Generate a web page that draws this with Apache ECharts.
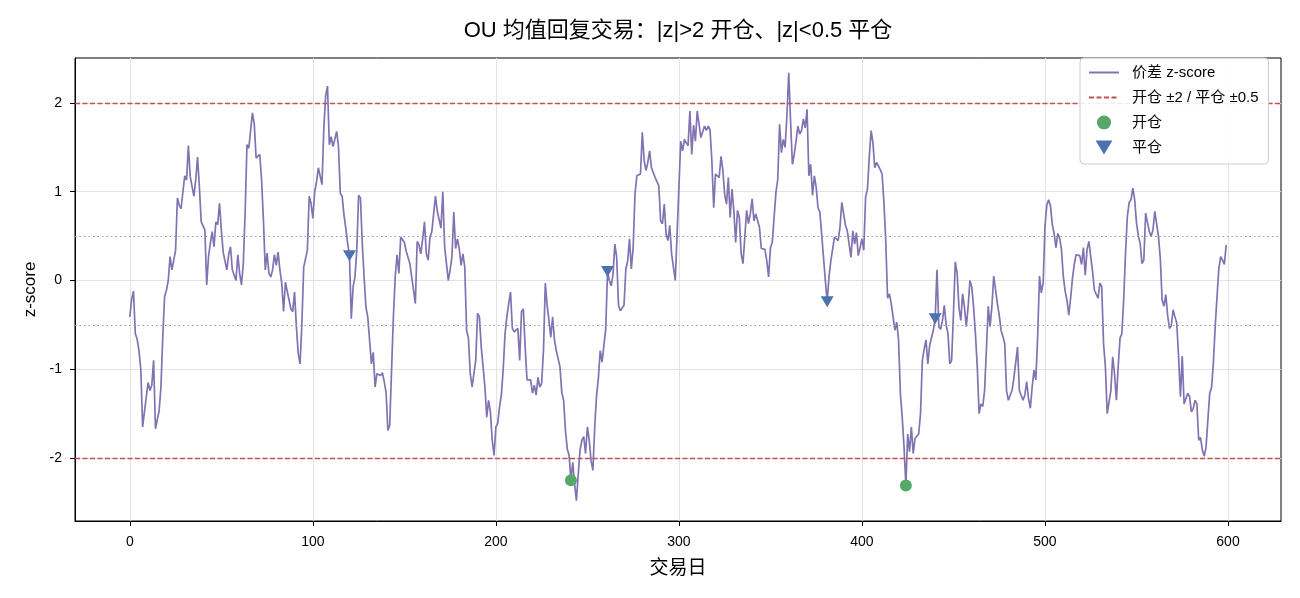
<!DOCTYPE html>
<html><head><meta charset="utf-8">
<script src="https://cdn.jsdelivr.net/npm/echarts@6/dist/echarts.min.js"></script>
<style>html,body{margin:0;padding:0;background:#fff}#c{width:1300px;height:598px}</style>
</head><body><div id="c"></div>
<script>
// z-score of the spread, trading days 0..599
const zScore = [
-0.41,-0.21,-0.12,-0.6,-0.66,-0.79,-1.0,-1.65,-1.67,-1.31,
-1.15,-1.24,-1.18,-0.9,-1.67,-1.65,-1.47,-1.2,-0.64,-0.18,
-0.11,0.0,0.27,0.12,0.10,0.34,0.93,0.85,0.81,0.83,
1.18,1.13,1.52,1.17,1.06,0.95,1.13,1.39,1.06,0.66,
0.64,0.57,-0.05,0.27,0.42,0.55,0.38,0.66,0.63,0.87,
0.57,0.32,0.34,0.12,0.29,0.38,0.12,0.10,0.0,0.29,
0.08,-0.05,0.19,0.76,1.53,1.49,1.49,1.89,1.76,1.38,
1.36,1.42,1.13,0.68,0.12,0.31,0.08,0.04,0.12,0.29,
0.17,0.32,0.12,-0.03,-0.35,-0.02,-0.03,-0.22,-0.32,-0.35,
-0.13,-0.52,-0.82,-0.94,-0.49,0.15,0.15,0.34,0.95,0.87,
0.70,1.0,1.11,1.27,1.25,1.08,1.72,2.08,2.19,1.53,
1.62,1.51,1.59,1.68,1.51,0.98,0.95,0.74,0.59,0.42,
0.28,-0.43,-0.07,0.04,0.34,0.96,0.93,0.42,0.04,-0.30,
-0.41,-0.39,-0.94,-0.81,-1.2,-1.05,-1.03,-1.07,-1.04,-1.14,
-1.26,-1.69,-1.63,-1.01,-0.41,0.04,0.29,0.08,0.49,0.46,
0.43,0.33,0.34,0.19,0.17,-0.11,-0.26,0.44,0.40,0.30,
0.47,0.66,0.30,0.23,0.49,0.55,0.57,0.95,0.78,0.76,
0.59,1.0,0.38,0.19,0.0,0.12,0.27,0.77,0.36,0.47,
0.36,0.17,0.30,0.15,-0.56,-0.65,-1.05,-1.2,-1.05,-0.9,
-0.37,-0.41,-0.75,-0.97,-1.2,-1.54,-1.35,-1.48,-1.8,-1.97,
-1.65,-1.61,-1.42,-1.29,-1.0,-0.6,-0.41,-0.26,-0.13,-0.54,
-0.58,-0.6,-0.54,-0.9,-0.35,-0.32,-0.75,-1.12,-1.14,-1.12,
-1.27,-1.18,-1.29,-1.09,-1.2,-1.16,-0.79,-0.03,-0.28,-0.45,
-0.64,-0.41,-0.67,-0.79,-0.79,-0.97,-1.26,-1.35,-1.69,-1.9,
-1.97,-2.25,-2.05,-2.29,-2.48,-2.18,-1.91,-1.8,-1.76,-1.95,
-1.65,-1.8,-2.03,-2.14,-1.65,-1.3,-1.1,-0.79,-0.92,-0.92,
-0.55,0.10,0.0,-0.06,0.07,0.41,0.26,-0.28,-0.34,-0.32,
-0.28,0.13,0.22,0.47,0.13,0.37,0.97,1.18,1.2,1.2,
1.67,1.35,1.24,1.33,1.46,1.27,1.29,1.16,1.14,1.07,
0.67,0.64,0.86,0.52,0.45,0.62,0.30,0.32,0.0,0.52,
1.05,1.57,1.46,1.59,1.55,1.52,1.91,1.42,1.75,1.57,
1.91,1.89,1.61,1.61,1.74,1.69,1.74,1.70,1.35,0.82,
1.2,1.2,1.16,1.4,1.24,0.97,0.86,1.16,0.71,1.03,
0.79,0.43,0.79,0.71,0.30,0.19,0.49,0.79,0.64,0.75,
0.92,0.67,0.75,0.73,0.60,0.36,0.36,0.35,0.22,0.04,
0.37,0.43,0.71,0.99,1.14,1.76,1.44,1.59,1.5,1.85,
2.34,1.8,1.31,1.42,1.57,1.74,1.65,1.69,1.82,1.72,
1.93,1.18,1.31,0.96,1.18,1.05,0.82,0.77,0.52,0.26,
0.0,-0.24,0.04,0.22,0.21,0.49,0.49,0.45,0.60,0.88,
0.75,0.62,0.56,0.56,0.26,0.56,0.41,0.54,0.28,0.37,
0.47,0.34,0.94,1.03,1.39,1.69,1.55,1.27,1.33,1.29,
1.25,1.2,0.88,0.45,-0.2,-0.15,-0.26,-0.41,-0.56,-0.47,
-0.67,-1.27,-1.54,-1.88,-2.31,-1.73,-1.93,-1.65,-1.95,-1.78,
-1.78,-1.73,-1.5,-0.9,-0.77,-0.67,-0.94,-0.73,-0.73,-0.56,
-0.43,0.12,-0.52,-0.55,-0.45,-0.28,-0.5,-0.6,-0.94,-0.9,
-0.37,0.21,0.08,-0.3,-0.45,-0.15,-0.3,-0.52,-0.3,0.0,
-0.07,-0.3,-0.6,-0.97,-1.5,-1.39,-1.42,-1.24,-0.78,-0.29,
-0.52,-0.29,0.05,0.05,-0.26,-0.39,-0.56,-0.63,-0.71,-1.24,
-1.35,-1.34,-1.24,-1.1,-1.08,-0.75,-1.24,-1.25,-1.35,-1.29,
-1.14,-1.33,-1.44,-1.2,-1.01,-1.12,-0.63,0.05,-0.14,-0.03,
0.61,0.85,0.91,0.84,0.63,0.53,0.37,0.53,0.48,0.35,
0.05,-0.12,-0.22,-0.39,-0.2,0.02,0.18,0.29,0.31,0.28,
0.18,0.37,0.06,0.35,0.44,0.27,0.10,-0.11,-0.12,-0.2,
-0.03,-0.07,-0.71,-0.97,-1.5,-1.52,-1.24,-0.86,-1.05,-1.35,
-0.97,-0.65,-0.6,-0.22,0.31,0.72,0.88,0.91,1.04,0.91,
0.65,0.5,0.42,0.19,0.23,0.76,0.78,0.55,0.5,0.57,
0.78,0.78,0.5,0.25,-0.22,-0.29,-0.16,-0.39,-0.54,-0.51,
-0.33,-0.41,-0.48,-0.86,-1.31,-0.85,-1.39,-1.4,-1.27,-1.31,
-1.48,-1.44,-1.35,-1.39,-1.8,-1.77,-1.91,-1.98,-1.88,-1.57,
-1.27,-1.21,-0.93,-0.52,-0.18,0.14,0.27,0.23,0.18,0.4
];
const entryDays = [241, 424];
const entryZ = [-2.25, -2.31];
const exitDays = [120, 261, 381, 440];
const exitZ = [0.28, 0.10, -0.24, -0.43];
const openLevels = [2, -2];
const closeLevels = [0.5, -0.5];
const xTicks = [0, 100, 200, 300, 400, 500, 600];
const yTicks = [-2, -1, 0, 1, 2];
const names = ['价差 z-score', '开仓 ±2 / 平仓 ±0.5', '开仓', '平仓'];
const titleText = 'OU 均值回复交易：|z|>2 开仓、|z|<0.5 平仓';

const FONT = "'Liberation Sans', 'Noto Sans CJK SC', sans-serif";
const TRI = 'path://M0,0L12,0L6,10Z';
const chart = echarts.init(document.getElementById('c'), null, {renderer: 'canvas'});
const gridL = 75, gridR = 19, gridT = 58, gridB = 77;
const axisCommon = {
  axisLine: {show: true, onZero: false, lineStyle: {color: '#000', width: 1}},
  splitLine: {show: true, lineStyle: {color: '#e3e3e3', width: 1}}
};
const option = {
  animation: false,
  backgroundColor: '#fff',
  textStyle: {fontFamily: FONT},
  graphic: [{
    type: 'text', x: (gridL + (1300 - gridR)) / 2, y: 31, z: 10,
    style: {text: titleText, font: "22px " + FONT, fill: '#000', align: 'center', verticalAlign: 'middle', textAlign: 'center', textVerticalAlign: 'middle'}
  }],
  grid: {left: gridL, right: gridR, top: gridT, bottom: gridB, show: true, borderColor: '#000', borderWidth: 1, backgroundColor: 'transparent'},
  legend: {
    orient: 'vertical', left: 1080, top: 58, z: 20, zlevel: 1,
    padding: [7, 10, 9, 8], itemGap: 10, itemWidth: 30, itemHeight: 14,
    borderColor: '#cccccc', borderWidth: 1, borderRadius: 4, backgroundColor: 'rgba(255,255,255,0.88)',
    textStyle: {fontSize: 15, lineHeight: 14, color: '#000', fontFamily: FONT, padding: [0, 0, 0, 8]},
    data: [
      {name: names[0], itemStyle: {opacity: 0}},
      {name: names[1], itemStyle: {opacity: 0}},
      {name: names[2], icon: 'circle'},
      {name: names[3], icon: TRI}
    ]
  },
  xAxis: Object.assign({}, axisCommon, {
    type: 'value', min: -29.95, max: 628.95,
    name: '交易日', nameLocation: 'middle', nameGap: 38,
    nameTextStyle: {fontSize: 19, color: '#000', fontFamily: FONT},
    axisTick: {show: true, length: 5, lineStyle: {color: '#000'}, customValues: xTicks},
    axisLabel: {fontSize: 14, color: '#000', margin: 14, customValues: xTicks, fontFamily: FONT}
  }),
  yAxis: Object.assign({}, axisCommon, {
    type: 'value', min: -2.7099, max: 2.507,
    name: 'z-score', nameLocation: 'middle', nameGap: 36,
    nameTextStyle: {fontSize: 17, color: '#000', fontFamily: FONT},
    axisTick: {show: true, length: 5, lineStyle: {color: '#000'}, customValues: yTicks},
    axisLabel: {fontSize: 14, color: '#000', margin: 13, customValues: yTicks, fontFamily: FONT}
  }),
  series: [
    {
      name: names[0], type: 'line', symbol: 'none', z: 2,
      data: zScore.map((v, i) => [i, v]),
      lineStyle: {color: '#8172B2', width: 1.7},
      itemStyle: {color: '#8172B2'},
      markLine: {
        silent: true, symbol: ['none', 'none'], label: {show: false},
        lineStyle: {color: '#999999', type: [1.5, 3], width: 1.1},
        data: closeLevels.map(v => ({yAxis: v}))
      }
    },
    {
      name: names[1], type: 'line', symbol: 'none', z: 3, data: [],
      lineStyle: {color: '#C44E52', type: [5, 2.5], width: 1.3},
      itemStyle: {color: '#C44E52'},
      markLine: {
        silent: true, symbol: ['none', 'none'], label: {show: false},
        lineStyle: {color: '#C44E52', type: [5, 2.5], width: 1.3},
        data: openLevels.map(v => ({yAxis: v}))
      }
    },
    {
      name: names[2], type: 'scatter', symbol: 'circle', symbolSize: 12, z: 5,
      data: entryDays.map((d, i) => [d, entryZ[i]]),
      itemStyle: {color: '#55A868', opacity: 1}
    },
    {
      name: names[3], type: 'scatter', symbol: TRI, symbolSize: [13, 11], z: 5,
      data: exitDays.map((d, i) => [d, exitZ[i]]),
      itemStyle: {color: '#4C72B0', opacity: 1}
    }
  ]
};
chart.setOption(option);
</script>
</body></html>
